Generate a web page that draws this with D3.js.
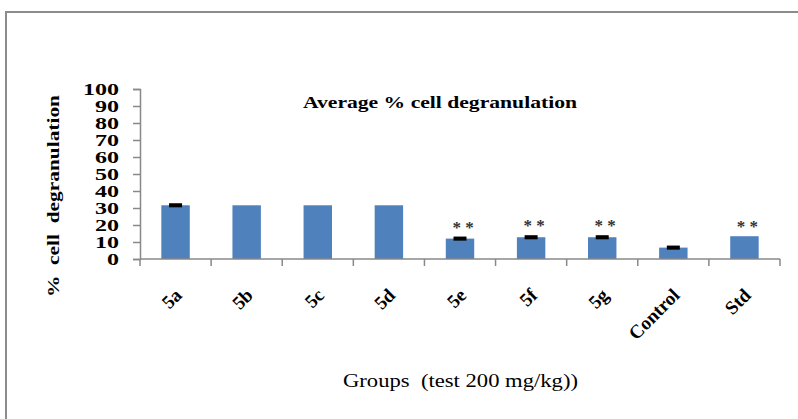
<!DOCTYPE html>
<html>
<head>
<meta charset="utf-8">
<script src="https://cdn.jsdelivr.net/npm/d3@7"></script>
<style>
  body { margin: 0; background: #fff; }
  svg { display: block; }
</style>
</head>
<body>
<svg id="chart" width="798" height="419"></svg>
<script>
// values
var groups = ["5a", "5b", "5c", "5d", "5e", "5f", "5g", "Control", "Std"];
var degranulation = [31.6, 31.6, 31.6, 31.6, 12.0, 12.8, 12.8, 6.7, 13.4];
var errors = [1.2, 0, 0, 0, 1.2, 1.2, 1.2, 1.2, 0];
var significant = [false, false, false, false, true, true, true, false, true];
var yTicks = [0, 10, 20, 30, 40, 50, 60, 70, 80, 90, 100];

var svg = d3.select("#chart");
var serif = "'Liberation Serif', 'Times New Roman', serif";
var axisGrey = "#888888";

// outer frame (runs off right and bottom)
svg.append("rect")
    .attr("x", 6).attr("y", 12)
    .attr("width", 820).attr("height", 440)
    .attr("fill", "none")
    .attr("stroke", "#8c8c8c")
    .attr("stroke-width", 2);

var plot = {left: 140, right: 780, top: 89, bottom: 259};

var x = d3.scaleBand()
    .domain(groups)
    .range([plot.left, plot.right])
    .paddingInner(0.6)
    .paddingOuter(0.3);

var xTicks = d3.scaleBand().domain(groups).range([plot.left, plot.right]);

var y = d3.scaleLinear()
    .domain([0, 100])
    .range([plot.bottom, plot.top]);

// bars
svg.append("g").selectAll("rect")
    .data(groups)
    .enter().append("rect")
    .attr("x", function(d) { return x(d); })
    .attr("y", function(d, i) { return y(degranulation[i]); })
    .attr("width", x.bandwidth())
    .attr("height", function(d, i) { return y(0) - y(degranulation[i]); })
    .attr("fill", "#4f81bd");

// error caps
svg.append("g").selectAll("rect")
    .data(groups.filter(function(d, i) { return errors[i] > 0; }))
    .enter().append("rect")
    .attr("x", function(d) { return x(d) + x.bandwidth() / 2 - 6.5; })
    .attr("y", function(d) { var i = groups.indexOf(d); return y(degranulation[i] + errors[i]); })
    .attr("width", 13)
    .attr("height", function(d) { var i = groups.indexOf(d); return y(degranulation[i] - errors[i]) - y(degranulation[i] + errors[i]); })
    .attr("fill", "#000");

// significance stars
svg.append("g").selectAll("text")
    .data(groups.filter(function(d, i) { return significant[i]; }))
    .enter().append("text")
    .attr("x", function(d) { return x(d) + x.bandwidth() / 2 + 3; })
    .attr("y", function(d) { var i = groups.indexOf(d); return y(degranulation[i] + errors[i]) - 4; })
    .attr("text-anchor", "middle")
    .attr("font-family", serif)
    .attr("font-weight", "bold")
    .attr("font-size", 17)
    .attr("fill", "#333")
    .attr("xml:space", "preserve")
    .text("* *");

// y axis
var yAxis = svg.append("g")
    .attr("transform", "translate(" + plot.left + ",0)")
    .call(d3.axisLeft(y).tickValues(yTicks).tickSize(7).tickPadding(14));
yAxis.select(".domain").attr("stroke", axisGrey).attr("stroke-width", 1.5);
yAxis.selectAll(".tick line").attr("stroke", axisGrey).attr("stroke-width", 1.5);
yAxis.selectAll(".tick text")
    .attr("font-family", serif)
    .attr("font-weight", "bold")
    .attr("font-size", 16)
    .attr("fill", "#000")
    .attr("dy", "0.36em")
    .attr("textLength", function(d) { return String(d).length * 12; })
    .attr("lengthAdjust", "spacingAndGlyphs");

// x axis
var xAxisG = svg.append("g")
    .attr("transform", "translate(0," + plot.bottom + ")");
xAxisG.append("line")
    .attr("x1", plot.left).attr("x2", plot.right)
    .attr("y1", 0).attr("y2", 0)
    .attr("stroke", axisGrey).attr("stroke-width", 1.5);
xAxisG.selectAll("line.tk")
    .data(groups.concat(["end"]))
    .enter().append("line")
    .attr("class", "tk")
    .attr("x1", function(d, i) { return i < groups.length ? xTicks(d) : plot.right; })
    .attr("x2", function(d, i) { return i < groups.length ? xTicks(d) : plot.right; })
    .attr("y1", 0).attr("y2", 7)
    .attr("stroke", axisGrey).attr("stroke-width", 1.5);
xAxisG.selectAll("text")
    .data(groups)
    .enter().append("text")
    .attr("transform", function(d) {
        return "translate(" + (x(d) + x.bandwidth() / 2 - 2) + ",28) rotate(-45)";
    })
    .attr("text-anchor", "end")
    .attr("dy", "0.7em")
    .attr("font-family", serif)
    .attr("font-weight", "bold")
    .attr("font-size", 19)
    .attr("fill", "#000")
    .text(function(d) { return d; });

// titles
svg.append("text")
    .attr("x", 303).attr("y", 108)
    .attr("font-family", serif)
    .attr("font-weight", "bold")
    .attr("font-size", 17)
    .attr("textLength", 274)
    .attr("lengthAdjust", "spacingAndGlyphs")
    .text("Average % cell degranulation");

svg.append("text")
    .attr("transform", "translate(59,196) rotate(-90)")
    .attr("text-anchor", "middle")
    .attr("font-family", serif)
    .attr("font-weight", "bold")
    .attr("font-size", 17)
    .attr("textLength", 202)
    .attr("lengthAdjust", "spacingAndGlyphs")
    .attr("xml:space", "preserve")
    .text("%  cell  degranulation");

svg.append("text")
    .attr("x", 343).attr("y", 387)
    .attr("font-family", serif)
    .attr("font-size", 18)
    .attr("textLength", 235)
    .attr("lengthAdjust", "spacingAndGlyphs")
    .attr("xml:space", "preserve")
    .text("Groups  (test 200 mg/kg))");
</script>
</body>
</html>
